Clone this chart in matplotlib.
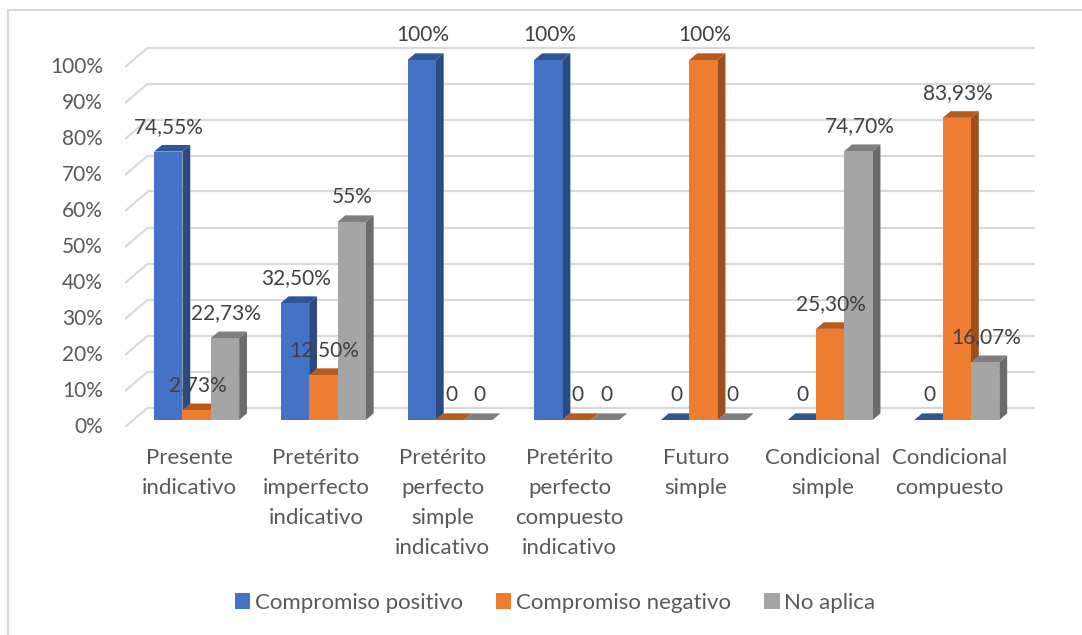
import matplotlib
matplotlib.use("Agg")
import matplotlib.pyplot as plt
from matplotlib.patches import Polygon, Rectangle
from matplotlib.lines import Line2D

plt.rcParams['font.family'] = ['Lato', 'DejaVu Sans']

# ---- data ----
categories = [
    "Presente\nindicativo",
    "Pretérito\nimperfecto\nindicativo",
    "Pretérito\nperfecto\nsimple\nindicativo",
    "Pretérito\nperfecto\ncompuesto\nindicativo",
    "Futuro\nsimple",
    "Condicional\nsimple",
    "Condicional\ncompuesto",
]
series_names = ["Compromiso positivo", "Compromiso negativo", "No aplica"]
positivo = [74.55, 32.50, 100, 100, 0, 0, 0]
negativo = [2.73, 12.50, 0, 0, 100, 25.30, 83.93]
no_aplica = [22.73, 55, 0, 0, 0, 74.70, 16.07]
value_labels = [
    ["74,55%", "32,50%", "100%", "100%", "0", "0", "0"],
    ["2,73%", "12,50%", "0", "0", "100%", "25,30%", "83,93%"],
    ["22,73%", "55%", "0", "0", "0", "74,70%", "16,07%"],
]
y_ticks = list(range(0, 101, 10))
y_tick_labels = [f"{t}%" for t in y_ticks]

series = [positivo, negativo, no_aplica]
# front / top / side shading for each series
front_colors = ["#4472C4", "#ED7D31", "#A5A5A5"]
top_colors = ["#2F5597", "#B65A1E", "#7F7F7F"]
side_colors = ["#2A4A80", "#9C4F1B", "#6B6B6B"]

# ---- figure layout ----
W, H = 1082, 635
fig = plt.figure(figsize=(W / 100, H / 100), dpi=100)

# chart frame (top and left edges)
fig.add_artist(Line2D([8 / W, 8 / W], [0, 1 - 10 / H], color="#D9D9D9", lw=1.5))
fig.add_artist(Line2D([8 / W, 1], [1 - 10 / H, 1 - 10 / H], color="#D9D9D9", lw=1.5))

px_per_cat = 126.7
px_per_pct = 3.6
ax_left, ax_right = 125, 1045
ax_top, ax_bottom = 30, 427
ax = fig.add_axes([ax_left / W, 1 - ax_bottom / H,
                   (ax_right - ax_left) / W, (ax_bottom - ax_top) / H])
ax.set_xlim(-0.5, -0.5 + (ax_right - ax_left) / px_per_cat)
ax.set_ylim(0, (ax_bottom - ax_top) / px_per_pct)
ax.axis("off")

# depth of the 3D box (floor front edge -> back wall)
DX = 23 / px_per_cat
DY = 19.5 / px_per_pct
t_front, t_back = 0.36, 0.70

n = len(categories)
grid_c = "#D9D9D9"
for t, lab in zip(y_ticks, y_tick_labels):
    ax.plot([-0.5, -0.5 + DX], [t, t + DY], color=grid_c, lw=1.6, zorder=1,
            solid_capstyle="butt")
    ax.plot([-0.5 + DX, n - 0.5 + DX], [t + DY, t + DY], color=grid_c, lw=1.6,
            zorder=1, solid_capstyle="butt")
    ax.annotate(lab, xy=(-0.5, t), xytext=(-22, 0), textcoords="offset pixels",
                ha="right", va="center", fontsize=15, color="#595959")

# bars
bw = 0.2237
fx, fy = t_front * DX, t_front * DY
ddx, ddy = (t_back - t_front) * DX, (t_back - t_front) * DY
z = 2
for i in range(n):
    for j, vals in enumerate(series):
        v = vals[i]
        x0 = i + (j - 1.5) * bw + fx
        yb = fy
        yt = fy + v
        if v > 0:
            side = Polygon([(x0 + bw, yb), (x0 + bw, yt), (x0 + bw + ddx, yt + ddy),
                            (x0 + bw + ddx, yb + ddy)], closed=True,
                           facecolor=side_colors[j], edgecolor="none", zorder=z)
            ax.add_patch(side)
        top = Polygon([(x0, yt), (x0 + bw, yt), (x0 + bw + ddx, yt + ddy),
                       (x0 + ddx, yt + ddy)], closed=True,
                      facecolor=top_colors[j], edgecolor="none", zorder=z + 0.1)
        ax.add_patch(top)
        if v > 0:
            ax.bar(x0, v, width=bw, bottom=yb, align="edge", color=front_colors[j],
                   edgecolor="none", zorder=z + 0.2)
        z += 1
        ax.annotate(value_labels[j][i], xy=(x0 + bw / 2, yt), xytext=(1, 25),
                    textcoords="offset pixels", ha="center", va="center",
                    fontsize=15, color="#404040", zorder=100,
                    annotation_clip=False)

# category labels
for i, cat in enumerate(categories):
    ax.annotate(cat, xy=(i, 0), xytext=(1, -21), textcoords="offset pixels",
                ha="center", va="top", fontsize=16, color="#595959",
                linespacing=1.62, annotation_clip=False)

# legend
handles = [Rectangle((0, 0), 1, 1, facecolor=c, edgecolor="none") for c in front_colors]
leg = fig.legend(handles, series_names, loc="center", ncol=3,
                 bbox_to_anchor=(555 / W, 1 - 603 / H), frameon=False,
                 fontsize=16, handlelength=0.7, handleheight=0.7,
                 handletextpad=0.2, columnspacing=1.5)
for txt in leg.get_texts():
    txt.set_color("#595959")

fig.savefig("out.png", dpi=100)
